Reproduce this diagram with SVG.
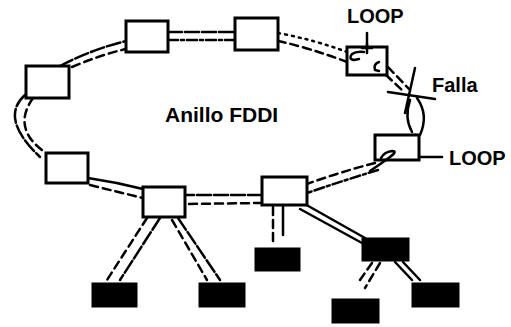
<svg xmlns="http://www.w3.org/2000/svg" width="511" height="327" viewBox="0 0 511 327">
<style>
.box{fill:#fff;stroke:#000;stroke-width:3}
.fill{fill:#000;stroke:#000;stroke-width:1}
.ln{fill:none;stroke:#000;stroke-width:2.5;stroke-linecap:round}
.d1{stroke-dasharray:14 3}
.d2{stroke-dasharray:8 5}
.d3{stroke-dasharray:10 3 3 3}
.dot{stroke-dasharray:2 5}
.lbl{font-family:"Liberation Sans",Arial,sans-serif;font-weight:bold;fill:#000}
</style>
<rect width="511" height="327" fill="#fff"/>
<g id="connectors">
  <path class="ln d1" d="M60,66 Q90,50 126,41"/>
  <path class="ln d2" d="M72,67 Q100,55 126,49"/>
  <path class="ln d1" d="M168,32 L235,32"/>
  <path class="ln d3" d="M168,40 L235,40"/>
  <path class="ln dot" d="M278,33 Q315,40 347,52"/>
  <path class="ln d2" d="M278,41 Q310,48 347,62"/>
  <path class="ln d2" d="M388,67 L410,90"/>
  <path class="ln d2" d="M386,75 L404,92"/>
  <path class="ln" d="M417,98 Q429,115 420,135"/>
  <path class="ln" d="M410,100 Q404,118 412,132"/>
  <ellipse class="ln" cx="413" cy="140" rx="3" ry="6" transform="rotate(35 413 140)"/>
  <path class="ln d2" d="M375,163 Q340,172 307,184"/>
  <path class="ln d3" d="M378,170 Q345,180 307,193"/>
  <path class="ln d1" d="M262,195 L185,195"/>
  <path class="ln d2" d="M262,203 L185,204"/>
  <path class="ln" d="M88,178 Q115,182 143,189"/>
  <path class="ln d2" d="M90,185 Q118,192 143,198"/>
  <path class="ln d1" d="M25,95 Q-1,118 40,157"/>
  <path class="ln d2" d="M33,98 Q11,129 46,153"/>
  <path class="ln d2" d="M147,218 L107,280"/>
  <path class="ln d1" d="M160,218 L120,280"/>
  <path class="ln d2" d="M172,220 L207,280"/>
  <path class="ln d1" d="M178,218 L220,280"/>
  <path class="ln d2" d="M273,207 L273,246"/>
  <path class="ln" d="M283,207 L283,235"/>
  <path class="ln" d="M303,203 L365,238"/>
  <path class="ln" d="M300,209 L362,243"/>
  <path class="ln d2" d="M372,263 L360,280"/>
  <path class="ln d2" d="M380,263 L365,288"/>
  <path class="ln" d="M395,262 L412,280"/>
  <path class="ln" d="M403,262 L420,280"/>
  <path class="ln" d="M388,92 L435,99"/>
  <path class="ln" d="M415,68 L405,113"/>
  <path class="ln" d="M367,33 L367,50"/>
  <path class="ln" d="M419,157 L442,157"/>
</g>
<g id="n1"><rect class="box" x="126" y="21" width="42" height="31"/></g>
<g id="n2"><rect class="box" x="235" y="18" width="43" height="32"/></g>
<g id="n3"><rect class="box" x="26" y="66" width="43" height="32"/></g>
<g id="n4"><rect class="box" x="46" y="153" width="42" height="30"/></g>
<g id="n5"><rect class="box" x="143" y="187" width="42" height="30"/></g>
<g id="n6"><rect class="box" x="262" y="177" width="45" height="28"/></g>
<g id="loop1">
  <rect class="box" x="347" y="47" width="40" height="28"/>
  <path class="ln" d="M362,48 L372,48 M367,44 L367,53"/>
  <path class="ln" d="M364,52 Q356,51 352,54 Q348,59 354,60 L359,59"/>
  <path class="ln" d="M379,62 Q373,64 375,70 L379,71"/>
</g>
<g id="loop2">
  <rect class="box" x="375" y="135" width="44" height="25"/>
  <path class="ln" d="M370,171 Q382,163 390,157 Q398,151 392,151 Q384,152 381,158"/>
</g>
<g id="f1"><rect class="fill" x="92" y="283" width="45" height="24"/></g>
<g id="f2"><rect class="fill" x="199" y="283" width="46" height="24"/></g>
<g id="f3"><rect class="fill" x="255" y="248" width="45" height="23"/></g>
<g id="f4"><rect class="fill" x="362" y="238" width="47" height="23"/></g>
<g id="f5"><rect class="fill" x="412" y="283" width="47" height="24"/></g>
<g id="f6"><rect class="fill" x="332" y="299" width="47" height="24"/></g>
<g id="labels">
  <text class="lbl" x="165" y="122" font-size="21">Anillo FDDI</text>
  <text class="lbl" x="347" y="23" font-size="20">LOOP</text>
  <text class="lbl" x="432" y="92" font-size="20">Falla</text>
  <text class="lbl" x="449" y="165" font-size="20">LOOP</text>
</g>
</svg>
